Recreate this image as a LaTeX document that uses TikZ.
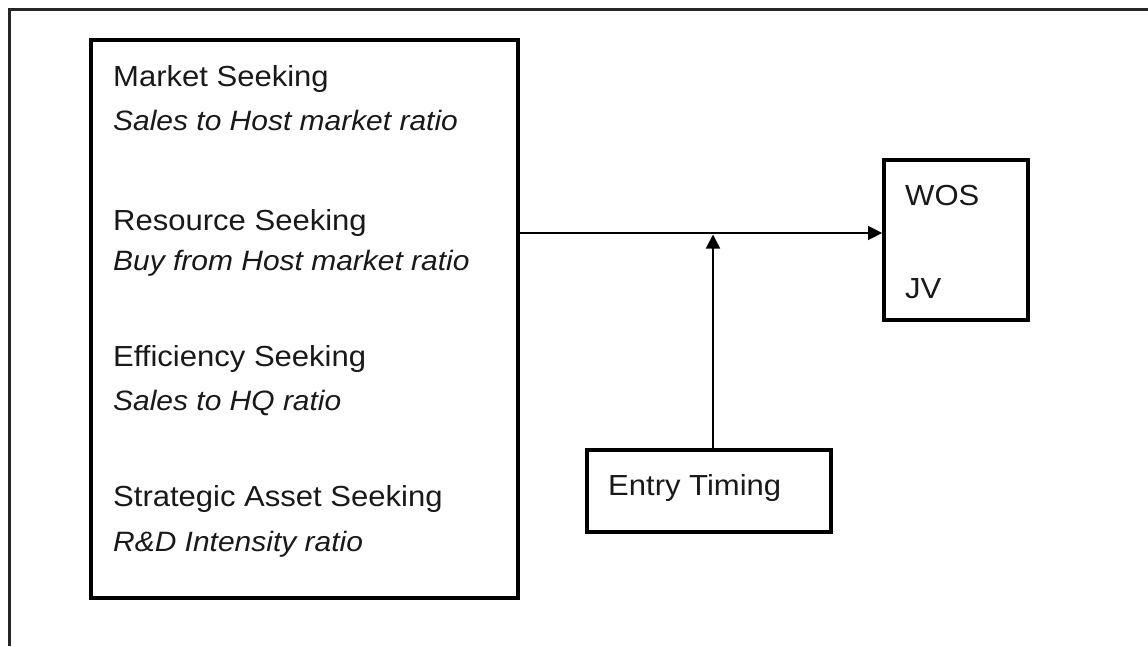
\documentclass[tikz,border=0pt]{standalone}
\usepackage{fontspec}
\setmainfont{Liberation Sans}[FakeStretch=1.07]
\usetikzlibrary{arrows.meta}
\tikzset{
  frameline/.style={line width=3pt, draw=black!85},
  boxed/.style={draw=black, line width=3.8pt, rectangle, inner sep=0pt},
  head/.style={anchor=base west, inner sep=0pt, text=black!90, font=\fontsize{29}{34}\selectfont},
  sub/.style={anchor=base west, inner sep=0pt, text=black!90, font=\fontsize{28}{34}\selectfont\itshape},
  conn/.style={line width=1.5pt, draw=black, -{Triangle[length=14pt,width=14pt]}},
}
\begin{document}
\begin{tikzpicture}[x=1pt,y=-1pt]
\useasboundingbox (0,0) rectangle (1148,646);
\fill[white] (0,0) rectangle (1148,646);
% outer partial frame
\coordinate (fa) at (9,646);
\coordinate (fb) at (9,9);
\coordinate (fc) at (1148,9);
\draw[frameline] (fa) -- (fb) -- (fc);
% main box
\node[boxed, minimum width=427pt, minimum height=558pt] (main) at (304.5,319) {};
\node[head] (ms) at (113,86) {Market Seeking};
\node[sub] (mss) at (113,130) {Sales to Host market ratio};
\node[head] (rs) at (113,230) {Resource Seeking};
\node[sub] (rss) at (113,270) {Buy from Host market ratio};
\node[head] (es) at (113,366) {Efficiency Seeking};
\node[sub] (ess) at (113,410) {Sales to HQ ratio};
\node[head] (sa) at (113,506) {Strategic Asset Seeking};
\node[sub] (sas) at (113,551) {R\&D Intensity ratio};
% WOS/JV box
\node[boxed, minimum width=144pt, minimum height=160pt] (wos) at (956,240) {};
\node[head] (wost) at (905,205) {WOS};
\node[head] (jvt) at (905,298) {JV};
% Entry timing box
\node[boxed, minimum width=244pt, minimum height=82pt] (et) at (709,491) {};
\node[head] (ett) at (608,495) {Entry Timing};
% connectors
\coordinate (j) at (713,233);
\draw[conn] (main.east |- j) -- (wos.west |- j);
\draw[conn, shorten >=1.5pt] (et.north -| j) -- (j);
\end{tikzpicture}
\end{document}
